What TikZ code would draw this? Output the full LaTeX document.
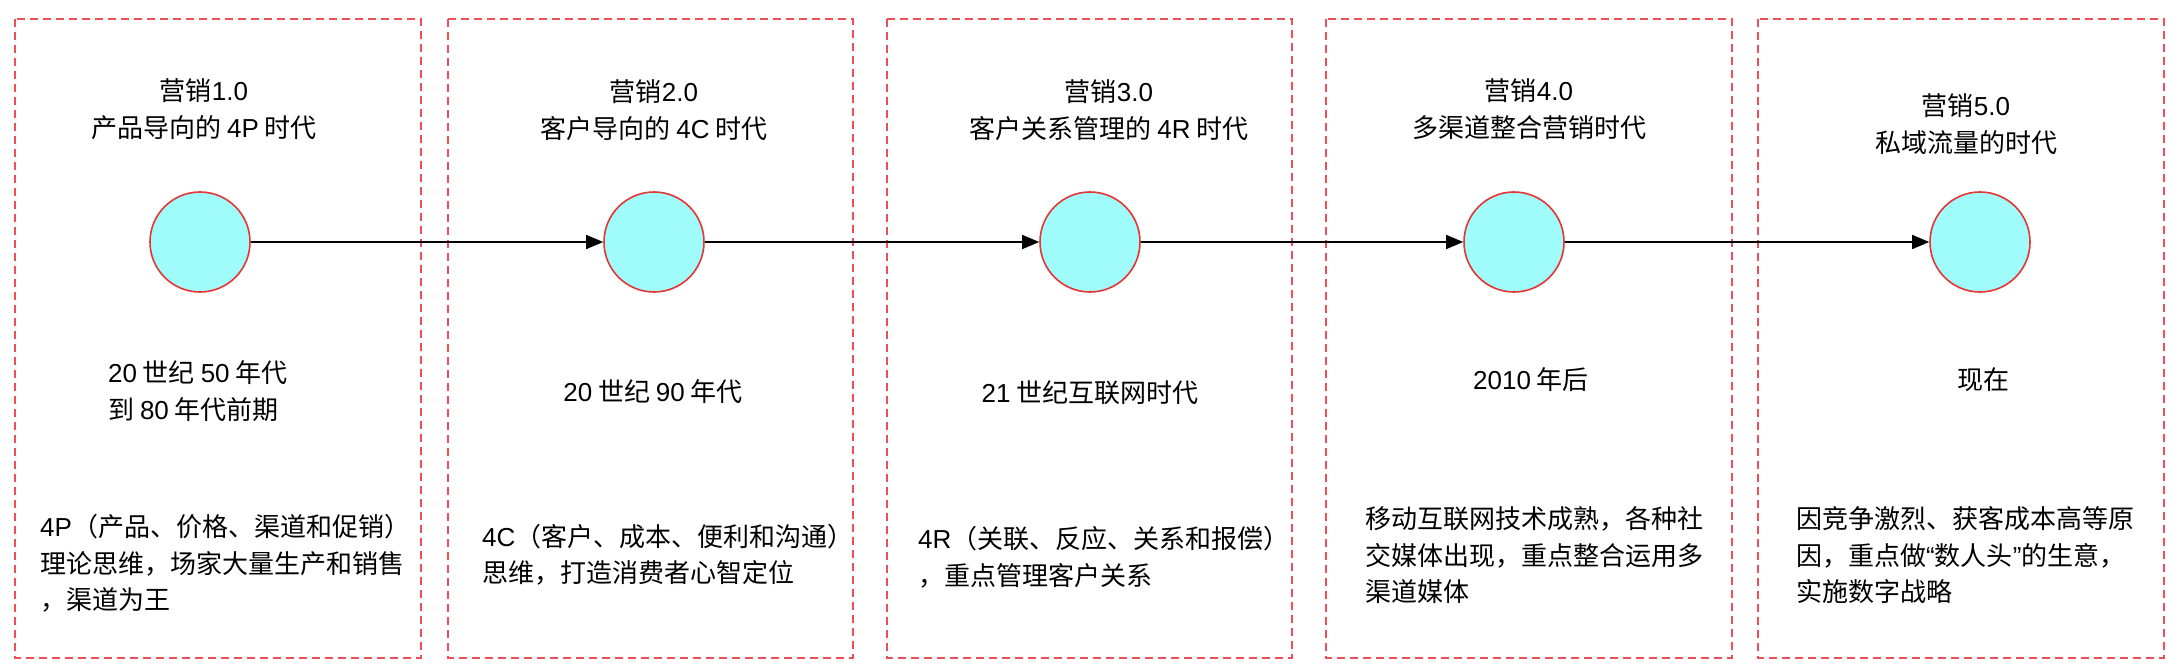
\documentclass[tikz,border=0pt]{standalone}
\usepackage{fontspec}
\setmainfont{Noto Sans CJK SC}
\newfontfamily\latinfont{Liberation Sans}
\newcommand{\lat}[1]{{\latinfont #1}}
\usetikzlibrary{arrows.meta}
\definecolor{dashred}{RGB}{238,78,88}
\definecolor{circfill}{RGB}{160,251,251}
\definecolor{circline}{RGB}{232,52,52}
\begin{document}
\begin{tikzpicture}[x=1pt,y=-1pt,
  dashbox/.style={draw=dashred,line width=1.6pt,dash pattern=on 8pt off 5pt},
  era/.style={circle,draw=circline,fill=circfill,line width=1.6pt,minimum size=100pt,inner sep=0pt},
  title/.style={align=center,inner sep=0pt,font=\fontsize{26}{37.5}\selectfont},
  datec/.style={align=center,inner sep=0pt,font=\fontsize{26}{37}\selectfont},
  datel/.style={align=left,anchor=west,inner sep=0pt,font=\fontsize{26}{37}\selectfont},
  desc/.style={align=left,anchor=west,inner sep=0pt,font=\fontsize{26}{36.5}\selectfont},
  flow/.style={-{Triangle[length=17pt,width=14pt]},line width=1.5pt,black}]
\useasboundingbox (0,0) rectangle (2182,668);
\fill[white] (0,0) rectangle (2182,668);
% dashed boxes
\draw[dashbox] (15,19) rectangle (421,658);
\draw[dashbox] (448,19) rectangle (853,658);
\draw[dashbox] (887,19) rectangle (1292,658);
\draw[dashbox] (1326,19) rectangle (1732,658);
\draw[dashbox] (1758,19) rectangle (2164,658);
% circles
\node[era] (c1) at (200,242) {};
\node[era] (c2) at (654,242) {};
\node[era] (c3) at (1090,242) {};
\node[era] (c4) at (1514,242) {};
\node[era] (c5) at (1980,242) {};
% arrows
\draw[flow] (c1) -- (c2);
\draw[flow] (c2) -- (c3);
\draw[flow] (c3) -- (c4);
\draw[flow] (c4) -- (c5);
% titles
\node[title] (t1) at (204,109) {营销\lat{1.0}\\产品导向的 \lat{4P} 时代};
\node[title] (t2) at (654,110) {营销\lat{2.0}\\客户导向的 \lat{4C} 时代};
\node[title] (t3) at (1109,110) {营销\lat{3.0}\\客户关系管理的 \lat{4R} 时代};
\node[title] (t4) at (1529,109) {营销\lat{4.0}\\多渠道整合营销时代};
\node[title] (t5) at (1966,124) {营销\lat{5.0}\\私域流量的时代};
% dates
\node[datel] (d1) at (108,391.5) {\lat{20} 世纪 \lat{50} 年代\\到 \lat{80} 年代前期};
\node[datec] (d2) at (653,392) {\lat{20} 世纪 \lat{90} 年代};
\node[datec] (d3) at (1090,393) {\lat{21} 世纪互联网时代};
\node[datec] (d4) at (1531,380) {\lat{2010} 年后};
\node[datec] (d5) at (1983,380) {现在};
% descriptions
\node[desc] (e1) at (40,563.5) {\lat{4P}（产品、价格、渠道和促销）\\理论思维，场家大量生产和销售\\，渠道为王};
\node[desc] (e2) at (482,555) {\lat{4C}（客户、成本、便利和沟通）\\思维，打造消费者心智定位};
\node[desc] (e3) at (918,557.5) {\lat{4R}（关联、反应、关系和报偿）\\，重点管理客户关系};
\node[desc] (e4) at (1365,555.5) {移动互联网技术成熟，各种社\\交媒体出现，重点整合运用多\\渠道媒体};
\node[desc] (e5) at (1796,555.5) {因竞争激烈、获客成本高等原\\因，重点做\lat{“}数人头\lat{”}的生意，\\实施数字战略};
\end{tikzpicture}
\end{document}
